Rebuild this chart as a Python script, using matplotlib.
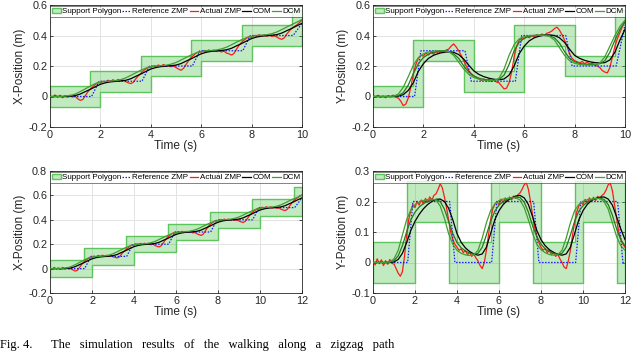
import numpy as np
import matplotlib
matplotlib.use("Agg")
import matplotlib.pyplot as plt
from matplotlib.patches import Patch

plt.rcParams['font.family'] = ['Liberation Sans', 'DejaVu Sans']
plt.rcParams['axes.unicode_minus'] = False

# sample times (fast = actual ZMP, slow = COM / DCM)
t10_fast = np.round(np.arange(0, 10.001, 0.1), 1)
t12_fast = np.round(np.arange(0, 12.001, 0.1), 1)
t10_slow = np.round(np.arange(0, 10.001, 0.2), 1)
t12_slow = np.round(np.arange(0, 12.001, 0.2), 1)

# ---------------- top left: X position, 10 s ----------------
x10_poly_start = [0, 1.6, 3.6, 5.6, 7.6, 9.6]
x10_poly_end = [2, 4, 6, 8, 10, 10]
x10_poly_center = [0, 0.1, 0.2, 0.3, 0.4, 0.5]
x10_ref_t = [0, 1.65, 1.95, 3.65, 3.95, 5.65, 5.95, 7.65, 7.95, 9.65, 10.0]
x10_ref_v = [0, 0, 0.1, 0.1, 0.2, 0.2, 0.3, 0.3, 0.4, 0.4, 0.48]
x10_zmp = [0.003, -0.006, 0.01, -0.004, 0.008, -0.008, 0.006, -0.005, 0.009, -0.003,
           0.002, -0.015, -0.025, -0.02, 0.005, 0.03, 0.05, 0.065, 0.078, 0.092,
           0.088, 0.1, 0.094, 0.107, 0.098, 0.11, 0.1, 0.112, 0.103, 0.108,
           0.098, 0.09, 0.085, 0.092, 0.115, 0.135, 0.15, 0.168, 0.18, 0.192,
           0.188, 0.2, 0.193, 0.207, 0.197, 0.21, 0.2, 0.205, 0.195, 0.2,
           0.19, 0.18, 0.172, 0.185, 0.21, 0.235, 0.255, 0.27, 0.285, 0.293,
           0.29, 0.302, 0.295, 0.305, 0.296, 0.304, 0.295, 0.3, 0.292, 0.298,
           0.285, 0.28, 0.272, 0.282, 0.31, 0.335, 0.355, 0.37, 0.382, 0.392,
           0.388, 0.4, 0.393, 0.405, 0.396, 0.404, 0.395, 0.402, 0.394, 0.398,
           0.39, 0.38, 0.375, 0.385, 0.41, 0.43, 0.448, 0.46, 0.47, 0.485, 0.5]
x10_com = [0, 0, 0, 0, 0.002, 0.006, 0.016, 0.032, 0.047, 0.064,
           0.08, 0.09, 0.096, 0.099, 0.102, 0.106, 0.116, 0.132, 0.147, 0.164,
           0.18, 0.19, 0.196, 0.199, 0.202, 0.206, 0.216, 0.232, 0.247, 0.264,
           0.28, 0.29, 0.296, 0.299, 0.302, 0.306, 0.316, 0.332, 0.347, 0.364,
           0.38, 0.39, 0.396, 0.399, 0.402, 0.406, 0.416, 0.432, 0.447, 0.464, 0.48]
x10_dcm = [0, 0, 0, 0.002, 0.006, 0.016, 0.032, 0.05, 0.068, 0.085,
           0.094, 0.099, 0.101, 0.104, 0.11, 0.122, 0.138, 0.155, 0.172, 0.186,
           0.195, 0.2, 0.202, 0.205, 0.212, 0.223, 0.239, 0.256, 0.272, 0.286,
           0.295, 0.3, 0.302, 0.305, 0.312, 0.323, 0.339, 0.356, 0.372, 0.386,
           0.395, 0.4, 0.402, 0.405, 0.412, 0.423, 0.439, 0.456, 0.472, 0.488, 0.505]

# ---------------- top right: Y position, 10 s ----------------
y10_poly_start = [0, 1.6, 3.6, 5.6, 7.6, 9.6]
y10_poly_end = [2, 4, 6, 8, 10, 10]
y10_poly_center = [0, 0.3, 0.1, 0.4, 0.2, 0.5]
y10_ref_t = [0, 1.65, 1.9, 3.65, 3.9, 5.65, 5.9, 7.65, 7.9, 9.65, 10.0]
y10_ref_v = [0, 0, 0.3, 0.3, 0.1, 0.1, 0.4, 0.4, 0.2, 0.2, 0.47]
y10_zmp = [0.005, -0.004, 0.008, -0.006, 0.003, -0.008, 0.006, -0.003, 0.009, -0.005,
           -0.01, -0.03, -0.06, -0.05, -0.01, 0.06, 0.15, 0.21, 0.25, 0.27,
           0.265, 0.285, 0.272, 0.29, 0.278, 0.295, 0.282, 0.298, 0.287, 0.305,
           0.31, 0.33, 0.345, 0.325, 0.3, 0.27, 0.235, 0.2, 0.17, 0.15,
           0.135, 0.125, 0.118, 0.105, 0.115, 0.1, 0.112, 0.098, 0.108, 0.095,
           0.09, 0.07, 0.05, 0.055, 0.09, 0.16, 0.26, 0.33, 0.37, 0.385,
           0.378, 0.395, 0.385, 0.4, 0.39, 0.405, 0.395, 0.41, 0.4, 0.415,
           0.42, 0.43, 0.445, 0.455, 0.435, 0.405, 0.37, 0.33, 0.28, 0.25,
           0.235, 0.228, 0.22, 0.23, 0.215, 0.225, 0.212, 0.22, 0.205, 0.2,
           0.19, 0.17, 0.16, 0.155, 0.19, 0.26, 0.33, 0.38, 0.42, 0.46, 0.49]
y10_com = [0, 0, 0, 0, 0, 0.002, 0.012, 0.04, 0.09, 0.165,
           0.215, 0.25, 0.27, 0.282, 0.29, 0.293, 0.29, 0.275, 0.245, 0.205,
           0.168, 0.145, 0.13, 0.12, 0.113, 0.11, 0.115, 0.14, 0.2, 0.28,
           0.33, 0.365, 0.385, 0.396, 0.402, 0.404, 0.4, 0.385, 0.355, 0.31,
           0.27, 0.25, 0.237, 0.228, 0.222, 0.22, 0.222, 0.24, 0.29, 0.37, 0.44]
y10_dcm = [0, 0, 0, 0, 0.002, 0.015, 0.06, 0.13, 0.205, 0.255,
           0.28, 0.292, 0.298, 0.3, 0.3, 0.295, 0.27, 0.225, 0.18, 0.145,
           0.125, 0.113, 0.107, 0.104, 0.105, 0.12, 0.18, 0.27, 0.34, 0.378,
           0.393, 0.399, 0.401, 0.402, 0.4, 0.395, 0.37, 0.32, 0.27, 0.235,
           0.218, 0.21, 0.207, 0.206, 0.208, 0.22, 0.26, 0.33, 0.4, 0.46, 0.5]
y10_dcm2 = [0, 0, 0, 0, 0, 0.005, 0.025, 0.075, 0.15, 0.215,
            0.255, 0.278, 0.29, 0.296, 0.298, 0.295, 0.28, 0.25, 0.2, 0.16,
            0.135, 0.12, 0.112, 0.108, 0.107, 0.112, 0.14, 0.21, 0.3, 0.355,
            0.382, 0.395, 0.4, 0.402, 0.402, 0.398, 0.385, 0.35, 0.295, 0.25,
            0.228, 0.217, 0.212, 0.21, 0.21, 0.215, 0.235, 0.29, 0.37, 0.44, 0.49]

# ---------------- bottom left: X position, 12 s ----------------
x12_poly_start = [0, 1.6, 3.6, 5.6, 7.6, 9.6, 11.6]
x12_poly_end = [2, 4, 6, 8, 10, 12, 12]
x12_poly_center = [0, 0.1, 0.2, 0.3, 0.4, 0.5, 0.6]
x12_ref_t = [0, 1.65, 1.95, 3.65, 3.95, 5.65, 5.95, 7.65, 7.95, 9.65, 9.95, 11.65, 12.0]
x12_ref_v = [0, 0, 0.1, 0.1, 0.2, 0.2, 0.3, 0.3, 0.4, 0.4, 0.5, 0.5, 0.58]
x12_zmp = [0.004, -0.005, 0.009, -0.003, 0.006, -0.007, 0.01, -0.004, 0.007, -0.002,
           0.0, -0.012, -0.02, -0.015, 0.008, 0.032, 0.052, 0.068, 0.08, 0.094,
           0.09, 0.102, 0.095, 0.108, 0.098, 0.11, 0.101, 0.109, 0.1, 0.106,
           0.097, 0.092, 0.088, 0.095, 0.117, 0.137, 0.152, 0.168, 0.182, 0.195,
           0.19, 0.203, 0.194, 0.207, 0.198, 0.208, 0.199, 0.206, 0.196, 0.2,
           0.19, 0.182, 0.178, 0.188, 0.212, 0.236, 0.256, 0.272, 0.285, 0.295,
           0.29, 0.303, 0.294, 0.306, 0.297, 0.305, 0.296, 0.302, 0.293, 0.296,
           0.285, 0.278, 0.272, 0.283, 0.31, 0.336, 0.356, 0.372, 0.384, 0.394,
           0.39, 0.402, 0.394, 0.406, 0.397, 0.405, 0.396, 0.403, 0.395, 0.398,
           0.39, 0.383, 0.378, 0.388, 0.41, 0.435, 0.455, 0.47, 0.482, 0.494,
           0.49, 0.503, 0.495, 0.507, 0.498, 0.506, 0.497, 0.503, 0.494, 0.497,
           0.487, 0.48, 0.476, 0.486, 0.51, 0.535, 0.555, 0.57, 0.582, 0.595, 0.605]
x12_com = [0, 0, 0, 0, 0.002, 0.006, 0.016, 0.032, 0.047, 0.064,
           0.08, 0.09, 0.096, 0.099, 0.102, 0.106, 0.116, 0.132, 0.147, 0.164,
           0.18, 0.19, 0.196, 0.199, 0.202, 0.206, 0.216, 0.232, 0.247, 0.264,
           0.28, 0.29, 0.296, 0.299, 0.302, 0.306, 0.316, 0.332, 0.347, 0.364,
           0.38, 0.39, 0.396, 0.399, 0.402, 0.406, 0.416, 0.432, 0.447, 0.464,
           0.48, 0.49, 0.496, 0.499, 0.502, 0.506, 0.516, 0.532, 0.547, 0.564, 0.58]
x12_dcm = [0, 0, 0, 0.002, 0.006, 0.016, 0.032, 0.05, 0.068, 0.085,
           0.094, 0.099, 0.101, 0.104, 0.11, 0.122, 0.138, 0.155, 0.172, 0.186,
           0.195, 0.2, 0.202, 0.205, 0.212, 0.223, 0.239, 0.256, 0.272, 0.286,
           0.295, 0.3, 0.302, 0.305, 0.312, 0.323, 0.339, 0.356, 0.372, 0.386,
           0.395, 0.4, 0.402, 0.405, 0.412, 0.423, 0.439, 0.456, 0.472, 0.486,
           0.495, 0.5, 0.502, 0.505, 0.512, 0.523, 0.539, 0.556, 0.572, 0.586, 0.6]

# ---------------- bottom right: Y position, 12 s ----------------
y12_poly_start = [0, 1.6, 3.6, 5.6, 7.6, 9.6, 11.6]
y12_poly_end = [2, 4, 6, 8, 10, 12, 12]
y12_poly_center = [0, 0.2, 0, 0.2, 0, 0.2, 0]
y12_ref_t = [0, 1.65, 1.9, 3.65, 3.9, 5.65, 5.9, 7.65, 7.9, 9.65, 9.9, 11.65, 11.9, 12.0]
y12_ref_v = [0, 0, 0.2, 0.2, 0, 0, 0.2, 0.2, 0, 0, 0.2, 0.2, 0, 0]
y12_zmp = [0.005, -0.008, 0.012, -0.004, 0.009, -0.01, 0.006, -0.006, 0.01, -0.003,
           -0.005, -0.02, -0.035, -0.045, -0.03, 0.02, 0.09, 0.14, 0.17, 0.19,
           0.18, 0.2, 0.188, 0.205, 0.192, 0.21, 0.198, 0.215, 0.205, 0.22,
           0.225, 0.24, 0.258, 0.245, 0.215, 0.18, 0.14, 0.1, 0.075, 0.06,
           0.05, 0.04, 0.045, 0.032, 0.04, 0.025, 0.035, 0.02, 0.028, 0.015,
           0.005, -0.01, -0.02, 0.0, 0.04, 0.09, 0.14, 0.175, 0.19, 0.2,
           0.19, 0.208, 0.195, 0.212, 0.2, 0.215, 0.205, 0.218, 0.21, 0.222,
           0.228, 0.24, 0.255, 0.262, 0.24, 0.2, 0.155, 0.115, 0.085, 0.065,
           0.05, 0.04, 0.046, 0.032, 0.04, 0.025, 0.034, 0.02, 0.027, 0.012,
           0.0, -0.015, -0.02, 0.005, 0.04, 0.09, 0.13, 0.165, 0.185, 0.198,
           0.19, 0.207, 0.195, 0.212, 0.2, 0.214, 0.203, 0.217, 0.208, 0.22,
           0.225, 0.238, 0.255, 0.26, 0.235, 0.19, 0.145, 0.1, 0.075, 0.06, 0.05]
y12_com = [0, 0, 0, 0, 0, 0.002, 0.01, 0.03, 0.065, 0.105,
           0.135, 0.158, 0.176, 0.19, 0.2, 0.207, 0.208, 0.2, 0.178, 0.14,
           0.095, 0.066, 0.048, 0.036, 0.028, 0.024, 0.028, 0.05, 0.095, 0.14,
           0.17, 0.19, 0.203, 0.212, 0.218, 0.22, 0.212, 0.19, 0.15, 0.105,
           0.075, 0.055, 0.042, 0.033, 0.027, 0.024, 0.028, 0.05, 0.095, 0.14,
           0.17, 0.19, 0.203, 0.21, 0.214, 0.215, 0.208, 0.188, 0.15, 0.11, 0.075]
y12_dcm = [0, 0, 0, 0, 0.002, 0.012, 0.04, 0.09, 0.14, 0.172,
           0.19, 0.198, 0.203, 0.206, 0.208, 0.205, 0.185, 0.145, 0.095, 0.06,
           0.04, 0.03, 0.025, 0.023, 0.025, 0.04, 0.08, 0.13, 0.17, 0.192,
           0.203, 0.208, 0.21, 0.212, 0.212, 0.205, 0.18, 0.14, 0.095, 0.06,
           0.042, 0.032, 0.026, 0.024, 0.026, 0.04, 0.08, 0.13, 0.17, 0.19,
           0.2, 0.206, 0.208, 0.21, 0.21, 0.2, 0.175, 0.13, 0.085, 0.055, 0.04]
y12_dcm2 = [0, 0, 0, 0, 0.001, 0.006, 0.022, 0.055, 0.1, 0.14,
            0.165, 0.182, 0.193, 0.2, 0.205, 0.207, 0.2, 0.175, 0.135, 0.095,
            0.065, 0.048, 0.038, 0.031, 0.027, 0.03, 0.05, 0.09, 0.135, 0.168,
            0.188, 0.2, 0.207, 0.212, 0.215, 0.213, 0.198, 0.165, 0.12, 0.085,
            0.06, 0.045, 0.036, 0.03, 0.027, 0.03, 0.05, 0.09, 0.135, 0.168,
            0.186, 0.198, 0.205, 0.209, 0.211, 0.207, 0.19, 0.155, 0.11, 0.075, 0.055]

foot_half = 0.068

poly_face = (0.2, 0.73, 0.2, 0.3)
poly_edge = '#5ec45e'
dcm_color = '#3f9f2f'
dcm2_color = '#237a1c'


def support_polygon(ax, starts, ends, centers):
    # convex hull of the feet in contact -> envelope of the active rectangles
    bp = sorted(set(starts + ends))
    lo, hi = [], []
    for a, b in zip(bp[:-1], bp[1:]):
        mid = (a + b) / 2
        act = [c for s, e, c in zip(starts, ends, centers) if s <= mid <= e]
        lo.append(min(act) - foot_half)
        hi.append(max(act) + foot_half)
    lo.append(lo[-1])
    hi.append(hi[-1])
    ax.fill_between(bp, lo, hi, step='post', facecolor=poly_face,
                    edgecolor=poly_edge, linewidth=1.0, zorder=1)


def panel(ax, poly, ref_t, ref_v, tf, zmp, ts, com, dcm, dcm2, ylab, ylim, yticks, tmax):
    support_polygon(ax, *poly)
    ax.plot(tf, zmp, color='#ff1a1a', lw=0.9, zorder=3)
    ax.plot(ref_t, ref_v, color='#1a1aff', lw=0.9, ls=(0, (1.2, 1.2)), zorder=4)
    ax.plot(ts, com, color='black', lw=0.9, zorder=5)
    if dcm2 is not None:
        ax.plot(ts, dcm2, color=dcm2_color, lw=0.9, zorder=5)
    ax.plot(ts, dcm, color=dcm_color, lw=0.9, zorder=6)

    ax.set_xlim(0, tmax)
    ax.set_ylim(*ylim)
    ax.set_xticks(range(0, tmax + 1, 2))
    ax.set_yticks(yticks)
    ax.set_yticklabels(['%g' % v for v in yticks])
    ax.grid(True, color='#e3e3e3', lw=0.7)
    ax.set_axisbelow(True)
    ax.tick_params(direction='in', top=True, right=True, length=2.5, width=0.6,
                   labelsize=7.8, colors='#262626', pad=2)
    for sp in ax.spines.values():
        sp.set_color('#262626')
        sp.set_linewidth(0.6)
    ax.set_xlabel('Time (s)', fontsize=8.6, labelpad=0, color='#262626')
    ax.set_ylabel(ylab, fontsize=8.6, labelpad=2, color='#262626')

    handles = [Patch(facecolor=poly_face, edgecolor=poly_edge, lw=1.0),
               plt.Line2D([], [], color='#1a1aff', lw=0.9, ls=(0, (1.2, 1.2))),
               plt.Line2D([], [], color='#ff1a1a', lw=0.9),
               plt.Line2D([], [], color='black', lw=0.9),
               plt.Line2D([], [], color=dcm_color, lw=0.9)]
    labels = ['Support Polygon', 'Reference ZMP', 'Actual ZMP', 'COM', 'DCM']
    leg = ax.legend(handles, labels, loc='upper center', ncol=5, fontsize=5.8,
                    handlelength=1.1, handletextpad=0.15, columnspacing=0.15,
                    borderpad=0.2, borderaxespad=0.15, frameon=True, fancybox=False)
    leg.get_frame().set_edgecolor('#262626')
    leg.get_frame().set_linewidth(0.5)


fig = plt.figure(figsize=(6.4, 3.52), dpi=100)
W, H = 640, 352
ax1 = fig.add_axes([50 / W, 1 - 127 / H, 252 / W, 122 / H])
ax2 = fig.add_axes([373 / W, 1 - 127 / H, 252 / W, 122 / H])
ax3 = fig.add_axes([50 / W, 1 - 293 / H, 252 / W, 122 / H])
ax4 = fig.add_axes([373 / W, 1 - 293 / H, 252 / W, 122 / H])

panel(ax1, (x10_poly_start, x10_poly_end, x10_poly_center), x10_ref_t, x10_ref_v,
      t10_fast, x10_zmp, t10_slow, x10_com, x10_dcm, None,
      'X-Position (m)', (-0.2, 0.6), [-0.2, 0, 0.2, 0.4, 0.6], 10)
panel(ax2, (y10_poly_start, y10_poly_end, y10_poly_center), y10_ref_t, y10_ref_v,
      t10_fast, y10_zmp, t10_slow, y10_com, y10_dcm, y10_dcm2,
      'Y-Position (m)', (-0.2, 0.6), [-0.2, 0, 0.2, 0.4, 0.6], 10)
panel(ax3, (x12_poly_start, x12_poly_end, x12_poly_center), x12_ref_t, x12_ref_v,
      t12_fast, x12_zmp, t12_slow, x12_com, x12_dcm, None,
      'X-Position (m)', (-0.2, 0.8), [-0.2, 0, 0.2, 0.4, 0.6, 0.8], 12)
panel(ax4, (y12_poly_start, y12_poly_end, y12_poly_center), y12_ref_t, y12_ref_v,
      t12_fast, y12_zmp, t12_slow, y12_com, y12_dcm, y12_dcm2,
      'Y-Position (m)', (-0.1, 0.3), [-0.1, 0, 0.1, 0.2, 0.3], 12)

# caption line at the bottom of the page crop
fig.text(0.0, 0.004, 'Fig. 4.      The   simulation   results   of   the   walking   along   a   zigzag   path',
         family='Liberation Serif', fontsize=9, va='bottom', ha='left')

fig.savefig('out.png', dpi=100)
